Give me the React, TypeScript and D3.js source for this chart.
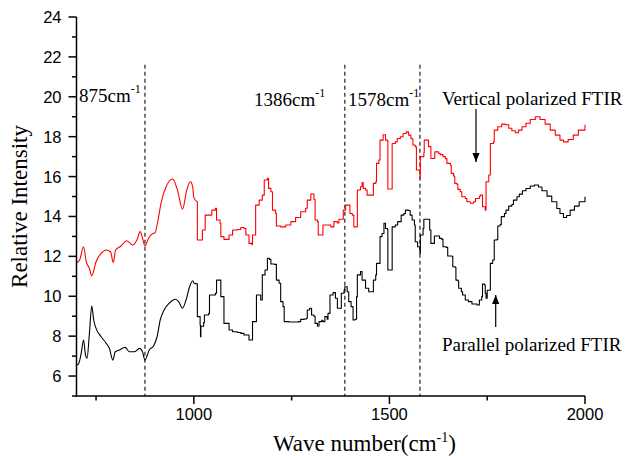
import React from "react";
import * as d3 from "d3";

// ---- data ----
const verticalSmooth: [number, number][] = [
  [700, 11.68], [708, 11.82], [718, 12.48], [725, 11.73], [733, 11.4], [739, 11.02], [750, 11.73],
  [763, 12.15], [776, 12.32], [787, 12.23], [794, 11.7], [800, 12.32], [814, 12.52], [828, 12.78],
  [844, 12.57], [855, 12.85], [863, 13.24], [869, 12.9], [875, 12.52], [884, 12.9], [892, 13.1],
  [901, 13.19], [907, 13.66], [916, 14.66], [929, 15.49], [946, 15.88], [958, 15.33], [971, 14.37],
  [982, 15.33], [991, 15.74], [997, 15.49], [1000, 14.96], [1008, 14.74],
];
const verticalStepped: [number, number][] = [
  [1008, 14.74], [1009, 12.82], [1019, 12.82], [1022, 13.32], [1029, 14.07], [1039, 14.07], [1046, 14.32],
  [1055, 14.41], [1058, 13.82], [1067, 13.66], [1069, 12.99], [1077, 12.85], [1090, 13.07], [1099, 13.32],
  [1111, 13.35], [1120, 13.45], [1128, 13.4], [1133, 13.07], [1141, 12.65], [1148, 12.6], [1150, 13.07],
  [1158, 14.57], [1167, 14.82], [1175, 15.07], [1180, 15.83], [1188, 15.91], [1191, 15.41], [1197, 15.24],
  [1201, 14.32], [1209, 14.15], [1211, 13.52], [1222, 13.48], [1235, 13.57], [1248, 13.74], [1260, 13.95],
  [1273, 14.24], [1286, 14.41], [1290, 14.82], [1299, 15.13], [1307, 14.86], [1310, 13.82], [1316, 13.74],
  [1318, 13.07], [1328, 13.07], [1330, 13.57], [1345, 13.57], [1350, 13.48], [1358, 13.74], [1367, 13.67],
  [1371, 13.86], [1379, 13.86], [1382, 14.32], [1388, 14.57], [1396, 14.57], [1399, 14.15], [1405, 14.07],
  [1409, 13.48], [1415, 13.48], [1418, 15.33], [1426, 15.49], [1430, 15.7], [1433, 15.41], [1439, 15.33],
  [1443, 15.07], [1456, 15.07], [1459, 15.66], [1465, 15.74], [1467, 16.66], [1473, 16.83], [1476, 17.83],
  [1484, 18.1], [1490, 17.83], [1495, 17.8], [1496, 15.38], [1506, 15.38], [1507, 17.66], [1515, 17.74],
  [1520, 17.91], [1528, 18.0], [1535, 18.16], [1543, 18.24], [1549, 18.08], [1555, 17.9], [1560, 17.58],
  [1566, 17.5], [1569, 16.33], [1578, 15.91], [1579, 17.0], [1588, 17.2], [1589, 17.83], [1596, 17.83],
  [1600, 17.5], [1604, 17.5], [1606, 16.91], [1613, 16.91], [1616, 17.24], [1626, 17.16], [1630, 17.1],
  [1637, 17.0], [1643, 16.9], [1647, 16.66], [1656, 16.57], [1658, 16.16], [1664, 16.03], [1667, 15.66],
  [1673, 15.6], [1675, 15.36], [1681, 15.24], [1685, 14.99], [1694, 14.9], [1698, 14.74], [1707, 14.66],
  [1715, 14.74], [1720, 14.9], [1730, 15.0], [1732, 15.07], [1736, 15.07], [1738, 14.49], [1745, 14.32],
  [1747, 15.74], [1754, 16.08], [1758, 16.24], [1758, 17.66], [1766, 17.74], [1768, 18.33], [1777, 18.5],
  [1787, 18.63], [1796, 18.6], [1805, 18.42], [1813, 18.3], [1822, 18.2], [1830, 18.33], [1839, 18.5],
  [1849, 18.67], [1860, 18.86], [1873, 19.0], [1885, 18.86], [1898, 18.63], [1911, 18.33], [1924, 18.08],
  [1936, 17.83], [1945, 17.74], [1957, 17.86], [1970, 18.08], [1983, 18.33], [2000, 18.6],
];
const parallelSmooth: [number, number][] = [
  [700, 6.55], [705, 6.6], [712, 7.14], [718, 7.81], [723, 7.06], [727, 6.89], [733, 8.14], [739, 9.51],
  [744, 8.81], [750, 8.39], [763, 7.97], [776, 7.64], [784, 7.39], [793, 6.8], [799, 7.22], [810, 7.31],
  [824, 7.44], [835, 7.22], [848, 7.22], [861, 7.39], [869, 7.2], [875, 6.8], [886, 7.31], [897, 7.51],
  [906, 7.97], [914, 8.81], [924, 9.31], [937, 9.65], [954, 9.85], [962, 9.7], [971, 9.4], [980, 9.81],
  [988, 10.4], [997, 10.78], [1001, 10.65], [1008, 10.62],
];
const parallelStepped: [number, number][] = [
  [1008, 10.62], [1009, 8.98], [1016, 8.56], [1017, 7.97], [1018, 8.5], [1025, 8.68], [1027, 9.06],
  [1038, 9.14], [1040, 10.06], [1048, 10.06], [1055, 10.15], [1058, 10.81], [1069, 10.81], [1069, 9.98],
  [1077, 9.56], [1077, 8.64], [1090, 8.31], [1099, 8.22], [1111, 8.18], [1120, 8.14], [1128, 8.06],
  [1141, 7.81], [1145, 7.81], [1150, 8.73], [1152, 8.73], [1160, 10.06], [1167, 10.06], [1171, 9.81],
  [1175, 11.07], [1182, 11.32], [1188, 11.9], [1193, 11.85], [1197, 11.62], [1206, 11.6], [1211, 10.81],
  [1218, 10.65], [1222, 9.73], [1228, 9.48], [1231, 8.73], [1243, 8.71], [1256, 8.71], [1267, 8.73],
  [1273, 8.84], [1282, 8.86], [1288, 8.9], [1290, 9.31], [1296, 9.4], [1301, 9.06], [1307, 9.0],
  [1310, 8.64], [1316, 8.51], [1320, 8.73], [1327, 8.8], [1330, 8.73], [1335, 8.98], [1341, 8.85],
  [1343, 9.14], [1348, 10.06], [1356, 10.18], [1362, 9.9], [1367, 9.4], [1375, 9.4], [1377, 10.15],
  [1384, 10.31], [1386, 10.48], [1392, 10.23], [1396, 9.73], [1402, 9.48], [1407, 8.81], [1412, 8.85],
  [1416, 9.98], [1418, 11.07], [1426, 11.24], [1430, 10.81], [1439, 10.81], [1439, 10.4], [1447, 10.23],
  [1456, 10.23], [1459, 10.81], [1465, 11.07], [1467, 11.65], [1473, 11.65], [1476, 12.99], [1481, 13.15],
  [1486, 13.66], [1490, 13.4], [1495, 13.35], [1496, 11.32], [1506, 11.32], [1507, 13.48], [1515, 13.57],
  [1521, 13.74], [1530, 14.07], [1537, 14.15], [1541, 14.32], [1548, 14.3], [1553, 14.07], [1558, 13.82],
  [1564, 13.57], [1566, 12.73], [1572, 12.48], [1578, 12.15], [1579, 13.07], [1586, 13.4], [1588, 13.86],
  [1596, 13.86], [1603, 13.32], [1606, 12.65], [1613, 12.65], [1615, 13.02], [1626, 13.02], [1628, 12.9],
  [1634, 12.85], [1637, 12.48], [1645, 12.45], [1649, 12.02], [1660, 12.0], [1662, 11.48], [1668, 11.45],
  [1670, 10.81], [1675, 10.78], [1677, 10.4], [1684, 10.23], [1687, 10.06], [1694, 9.81], [1702, 9.73],
  [1711, 9.61], [1724, 9.56], [1730, 9.81], [1736, 9.98], [1738, 10.61], [1743, 10.58], [1745, 10.15],
  [1747, 9.9], [1750, 10.3], [1757, 10.31], [1758, 11.65], [1764, 11.82], [1768, 12.82], [1775, 12.85],
  [1777, 13.52], [1783, 13.6], [1786, 13.99], [1794, 14.15], [1798, 14.32], [1805, 14.52], [1813, 14.6],
  [1817, 14.82], [1826, 14.99], [1832, 15.12], [1840, 15.29], [1849, 15.4], [1860, 15.53], [1871, 15.58],
  [1881, 15.48], [1890, 15.29], [1903, 15.02], [1915, 14.74], [1928, 14.4], [1936, 14.15], [1945, 13.95],
  [1953, 14.05], [1962, 14.32], [1973, 14.52], [1985, 14.74], [2000, 14.99],
];
const markerLines = [875, 1386, 1578];
const markerLabels = ["875", "1386", "1578"];
const yMajorTicks = [6, 8, 10, 12, 14, 16, 18, 20, 22, 24];
const yMinorTicks = [5, 7, 9, 11, 13, 15, 17, 19, 21, 23];
const xMajorTicks = [1000, 1500, 2000];
const xMinorTicks = [750, 1250, 1750];

const W = 625;
const H = 456;
const SERIF = "'Liberation Serif', 'Times New Roman', serif";
const SANS = "'Liberation Sans', Arial, sans-serif";

export default function App() {
  const x = d3.scaleLinear().domain([700, 2000]).range([76.5, 585]);
  const y = d3.scaleLinear().domain([5, 24]).range([396, 17]);
  const smooth = d3
    .line<[number, number]>()
    .x((d) => x(d[0]))
    .y((d) => y(d[1]))
    .curve(d3.curveMonotoneX);
  const stepped = d3
    .line<[number, number]>()
    .x((d) => x(d[0]))
    .y((d) => y(d[1]))
    .curve(d3.curveStepAfter);

  const x0 = x(700);
  const yb = y(5);

  return (
    <svg
      width={W}
      height={H}
      viewBox={`0 0 ${W} ${H}`}
      style={{ position: "absolute", left: 0, top: 0, background: "#fff" }}
    >
      <defs>
        <marker id="ah" viewBox="0 0 10 10" refX="10" refY="5" markerWidth="9" markerHeight="9" markerUnits="userSpaceOnUse" orient="auto">
          <path d="M0,1 L10,5 L0,9 Z" fill="#000" />
        </marker>
      </defs>

      {/* dashed marker lines */}
      {markerLines.map((m) => (
        <line key={m} x1={x(m)} x2={x(m)} y1={y(21.6)} y2={yb} stroke="#222" strokeWidth={1.2} strokeDasharray="4,3" />
      ))}

      {/* series */}
      <g fill="none" strokeWidth={1.1} strokeLinejoin="round">
        <path d={smooth(verticalSmooth) || ""} stroke="#ff0000" />
        <path d={stepped(verticalStepped) || ""} stroke="#ff0000" />
        <path d={smooth(parallelSmooth) || ""} stroke="#000" />
        <path d={stepped(parallelStepped) || ""} stroke="#000" />
      </g>

      {/* axes */}
      <g stroke="#000" strokeWidth={1.5}>
        <line x1={x0} x2={x0} y1={y(24)} y2={yb + 0.75} />
        <line x1={x0 - 0.75} x2={x(2000)} y1={yb} y2={yb} />
        {yMajorTicks.map((t) => (
          <line key={"ym" + t} x1={x0 - 8} x2={x0} y1={y(t)} y2={y(t)} />
        ))}
        {yMinorTicks.map((t) => (
          <line key={"yn" + t} x1={x0 - 4.5} x2={x0} y1={y(t)} y2={y(t)} />
        ))}
        {xMajorTicks.map((t) => (
          <line key={"xm" + t} x1={x(t)} x2={x(t)} y1={yb} y2={yb + 8} />
        ))}
        {xMinorTicks.map((t) => (
          <line key={"xn" + t} x1={x(t)} x2={x(t)} y1={yb} y2={yb + 4.5} />
        ))}
      </g>
      <g fontFamily={SANS} fontSize={16.5} fill="#000">
        {yMajorTicks.map((t) => (
          <text key={"yl" + t} x={x0 - 15} y={y(t)} dy="0.36em" textAnchor="end">
            {t}
          </text>
        ))}
        {xMajorTicks.map((t) => (
          <text key={"xl" + t} x={x(t)} y={420} textAnchor="middle">
            {t}
          </text>
        ))}
      </g>

      {/* axis titles */}
      <text x={273} y={451} fontFamily={SERIF} fontSize={23} fill="#000">
        Wave number(cm<tspan fontSize={14} dy={-9}>-1</tspan>
        <tspan dy={9}>)</tspan>
      </text>
      <text
        transform={`translate(27, ${(y(5) + y(24)) / 2}) rotate(-90)`}
        textAnchor="middle"
        fontFamily={SERIF}
        fontSize={23}
        fill="#000"
      >
        Relative Intensity
      </text>

      {/* annotations */}
      <g fontFamily={SERIF} fontSize={19} fill="#000">
        <text x={79} y={102}>
          {markerLabels[0]}cm<tspan fontSize={12} dy={-9}>-1</tspan>
        </text>
        <text x={254} y={106}>
          {markerLabels[1]}cm<tspan fontSize={12} dy={-9}>-1</tspan>
        </text>
        <text x={348} y={106}>
          {markerLabels[2]}cm<tspan fontSize={12} dy={-9}>-1</tspan>
        </text>
        <text x={442} y={105}>Vertical polarized FTIR</text>
        <text x={442} y={351}>Parallel polarized FTIR</text>
      </g>
      <line x1={476} x2={476} y1={109} y2={162} stroke="#000" strokeWidth={1.2} markerEnd="url(#ah)" />
      <line x1={495.7} x2={495.7} y1={327} y2={295} stroke="#000" strokeWidth={1.2} markerEnd="url(#ah)" />
    </svg>
  );
}
